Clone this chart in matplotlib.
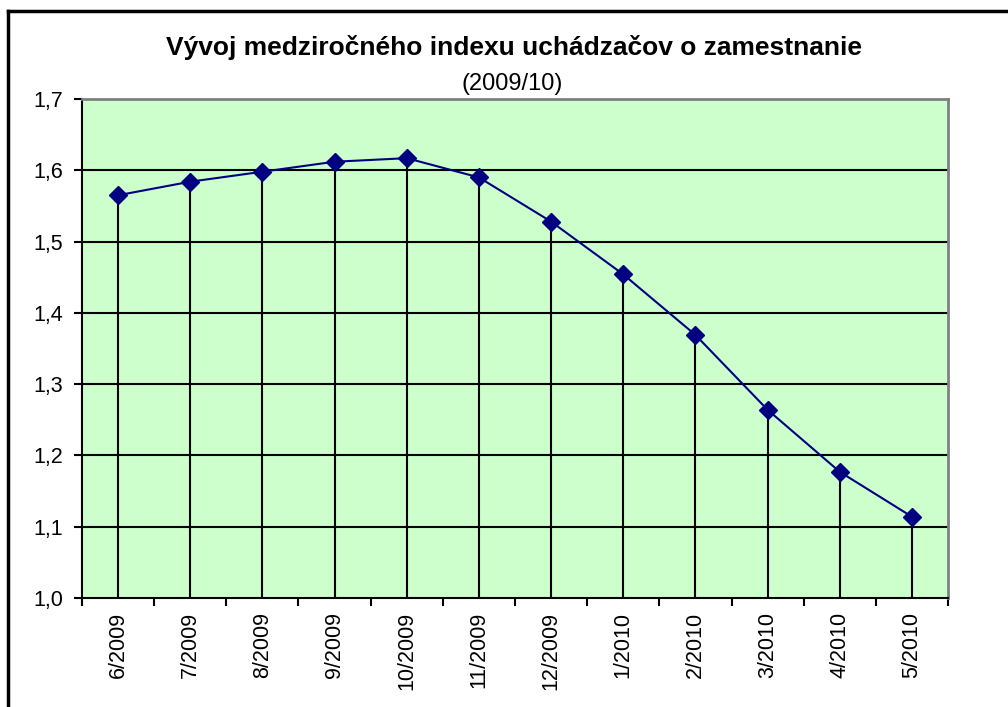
import matplotlib
matplotlib.use("Agg")
import matplotlib.pyplot as plt
from matplotlib.lines import Line2D
from matplotlib.ticker import FixedLocator, NullFormatter

categories = ["6/2009", "7/2009", "8/2009", "9/2009", "10/2009", "11/2009",
              "12/2009", "1/2010", "2/2010", "3/2010", "4/2010", "5/2010"]
values = [1.565, 1.584, 1.598, 1.612, 1.617, 1.590,
          1.528, 1.454, 1.369, 1.264, 1.177, 1.114]
yticks = [1.0, 1.1, 1.2, 1.3, 1.4, 1.5, 1.6, 1.7]
ytick_labels = ["1,0", "1,1", "1,2", "1,3", "1,4", "1,5", "1,6", "1,7"]
title = "Vývoj medziročného indexu uchádzačov o zamestnanie"
subtitle = "(2009/10)"

plt.rcParams['font.family'] = ['Liberation Sans', 'DejaVu Sans']

fig = plt.figure(figsize=(10.08, 7.07), dpi=100)
ax = fig.add_axes([82/1008, 1-598/707, (948-82)/1008, (598-99)/707])
ax.set_facecolor("#CCFFCC")

n = len(categories)
x = list(range(n))
ax.set_xlim(-0.5, n - 0.5)
ax.set_ylim(1.0, 1.7)

for yv in yticks[1:-1]:
    ax.axhline(yv, color="black", lw=1.5, zorder=1)
ax.vlines(x, 1.0, values, color="black", lw=1.5, zorder=2)
ax.plot(x, values, color="#000080", lw=1.5, marker="D", markersize=9,
        markerfacecolor="#000080", markeredgecolor="#000080", zorder=3)

ax.set_yticks(yticks)
ax.set_yticklabels(ytick_labels, fontsize=15.5)
ax.xaxis.set_major_locator(FixedLocator([i - 0.5 for i in range(n + 1)]))
ax.xaxis.set_major_formatter(NullFormatter())
ax.xaxis.set_minor_locator(FixedLocator(x))
ax.set_xticklabels(categories, minor=True, rotation=90, fontsize=15.5)
ax.tick_params(axis="x", which="minor", length=0, pad=10)
ax.tick_params(axis="x", which="major", length=6, width=1.5, direction="out")
ax.tick_params(axis="y", length=6, width=1.5, direction="out", pad=7.5)

ax.spines["left"].set_color("black")
ax.spines["left"].set_linewidth(1.5)
ax.spines["bottom"].set_color("black")
ax.spines["bottom"].set_linewidth(1.5)
ax.spines["top"].set_color("#808080")
ax.spines["top"].set_linewidth(2)
ax.spines["right"].set_color("#808080")
ax.spines["right"].set_linewidth(2)

fig.text(514/1008, 1-47/707, title, ha="center", va="center",
         fontsize=19, fontweight="bold")
fig.text(512/1008, 1-84/707, subtitle, ha="center", va="center", fontsize=17)

# outer chart frame (cut by image edge at right and bottom)
fig.add_artist(Line2D([8/1008, 8/1008], [0, 1-11/707], color="black", lw=2.5,
                      transform=fig.transFigure))
fig.add_artist(Line2D([8/1008, 1], [1-11/707, 1-11/707], color="black", lw=2.5,
                      transform=fig.transFigure))

fig.savefig("out.png", dpi=100)
